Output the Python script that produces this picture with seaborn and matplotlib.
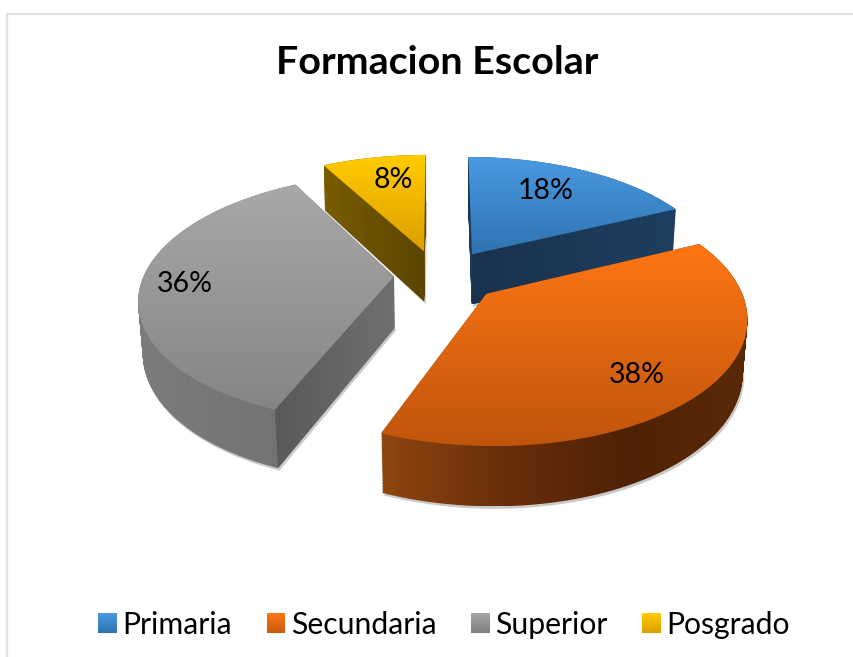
import numpy as np
import matplotlib
matplotlib.use('Agg')
import matplotlib.pyplot as plt
import seaborn as sns
from matplotlib.colors import LinearSegmentedColormap
from matplotlib.patches import Patch, Polygon, PathPatch
from matplotlib.path import Path

categories = ['Primaria', 'Secundaria', 'Superior', 'Posgrado']
values = [18, 38, 36, 8]
title = 'Formacion Escolar'

top_colors = [('#4a9ae2', '#2f72b0'), ('#ff7614', '#bf550d'), ('#a8a8a8', '#858585'), ('#ffcc00', '#dd9f00')]
rim_colors = [('#1c3f63', '#1a3550'), ('#8f4610', '#6a2e0a', '#4f2205', '#5a2a08'),
              ('#7c7c7c', '#747474', '#585858'), ('#7a5c00', '#574100')]
cut_colors = [('#19324e', '#1f3f60'), ('#6a2e0a', '#4f2205'), ('#595959', '#707070'), ('#7a5c00', '#5a4400')]
legend_colors = [('#4a9ae2', '#2f72b0'), ('#ff7614', '#c8590e'), ('#a8a8a8', '#7e7e7e'), ('#ffcc00', '#dd9f00')]
label_pos = [(546, 191), (637, 375), (185, 284), (393, 180)]
# small pixel nudges per slice
nudge = [(-1, -7), (2, -4), (-3, -6), (-11, -7)]
draw_order = [3, 0, 2, 1]

sns.set_theme(style='white')
plt.rcParams['font.family'] = ['Lato', 'DejaVu Sans']


# view of the unit disc from above, gives pixel positions
def project(x, y, z=0.0):
    w = 1 + 0.17 * y + 0.015 * z
    return np.c_[447 + 250 * x / w, 281 + (-120 * y + 52 * z) / w]


def arc_points(w, n=120):
    t = np.radians(np.linspace(w.theta1, w.theta2, n))
    return w.center[0] + np.cos(t), w.center[1] + np.sin(t)


def closed_path(verts):
    return Path(np.vstack([verts, verts[0]]), closed=True)


def gradient_fill(ax, path, colors, horizontal=False, zorder=2):
    cmap = LinearSegmentedColormap.from_list('g', colors)
    x0, y0 = path.vertices.min(axis=0)
    x1, y1 = path.vertices.max(axis=0)
    g = np.linspace(0, 1, 256)
    g = g.reshape(1, -1) if horizontal else g.reshape(-1, 1)
    im = ax.imshow(g, cmap=cmap, extent=(x0, x1, y1, y0), aspect='auto', zorder=zorder)
    clip = PathPatch(path, transform=ax.transData, fc='none', ec='none')
    ax.add_patch(clip)
    im.set_clip_path(clip)


# a cut face shows only if looking down from its top edge leaves the slice
def faces_viewer(apex, end, inner):
    edge = end - apex
    to_inner = inner - apex
    return edge[0] * (edge[0] * to_inner[1] - edge[1] * to_inner[0]) < 0


fig = plt.figure(figsize=(8.54, 6.57), dpi=100)
ax = fig.add_axes([0, 0, 1, 1])
wedges, _, autotexts = ax.pie(values, explode=[0.2] * 4, startangle=90, counterclock=False,
                              autopct='%.0f%%', colors=[c[0] for c in legend_colors])
for w in wedges:
    w.set_visible(False)

z = 1
for i in draw_order:
    w = wedges[i]
    ax_, ay_ = arc_points(w)
    off = np.array(nudge[i])
    top_arc = project(ax_, ay_) + off
    low_arc = project(ax_, ay_, 1) + off
    apex_top = project(*w.center)[0] + off
    apex_low = project(*w.center, 1)[0] + off

    # soft shadow under the slice
    shadow = np.vstack([apex_low, low_arc]) + [1.5, 2.5]
    ax.add_patch(Polygon(shadow, closed=True, fc='#c9c9c9', ec='none', zorder=z))
    z += 1

    # stack of layers gives the outline of the whole solid, for the outer wall
    layers = []
    for d in np.linspace(0, 1, 40):
        arc = project(ax_, ay_, d) + off
        apex = project(*w.center, d) + off
        layers.append(closed_path(np.vstack([apex, arc])))
    gradient_fill(ax, Path.make_compound_path(*layers), rim_colors[i], horizontal=True, zorder=z)
    z += 1

    # only the cut faces turned to the viewer
    inner = top_arc[len(top_arc) // 2]
    for end_top, end_low in [(top_arc[0], low_arc[0]), (top_arc[-1], low_arc[-1])]:
        if faces_viewer(apex_top, end_top, inner):
            f = closed_path(np.vstack([apex_top, end_top, end_low, apex_low]))
            gradient_fill(ax, f, cut_colors[i], horizontal=True, zorder=z)
            z += 1

    gradient_fill(ax, closed_path(np.vstack([apex_top, top_arc])), top_colors[i], zorder=z)
    z += 1

for i, t in enumerate(autotexts):
    t.set_position(label_pos[i])
    t.set_fontsize(20.5)
    t.set_color('black')
    t.set_zorder(z + 1)
    t.set_ha('center')
    t.set_va('center')

ax.set_aspect('auto')
ax.set_xlim(0, 854)
ax.set_ylim(657, 0)
ax.axis('off')

ax.plot([7.5, 7.5, 854], [657, 13.5, 13.5], color='#dfe2e6', lw=1.6, zorder=0)
ax.text(437.5, 62, title, fontsize=28.4, fontweight='bold', color='black', ha='center', va='center')

handles = [Patch(color=c[0]) for c in legend_colors]
leg = fig.legend(handles, categories, loc='center', bbox_to_anchor=(0.52, 0.049), ncol=4, frameon=False,
                 fontsize=21.7, handlelength=0.62, handleheight=0.62, handletextpad=0.19, columnspacing=1.14,
                 labelcolor='black')

# legend swatches get the same gradient as the slices
fig.canvas.draw()
for p, c in zip(leg.get_patches(), legend_colors):
    b = p.get_window_extent()
    p.set_visible(False)
    box = np.array([[b.x0, 657 - b.y0], [b.x1, 657 - b.y0], [b.x1, 657 - b.y1], [b.x0, 657 - b.y1]])
    gradient_fill(ax, closed_path(box), c, zorder=z)

ax.set_xlim(0, 854)
ax.set_ylim(657, 0)
fig.savefig('out.png', dpi=100)
